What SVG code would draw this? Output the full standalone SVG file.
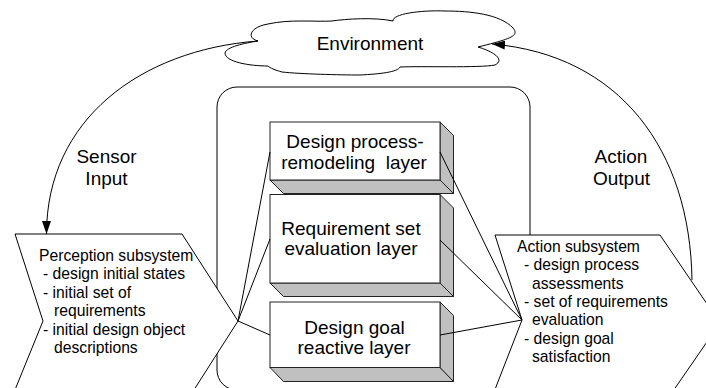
<svg xmlns="http://www.w3.org/2000/svg" width="706" height="388" viewBox="0 0 706 388">
  <style>
    .ln { fill: none; stroke: #000; stroke-width: 1; }
    .shape { fill: #fff; stroke: #000; stroke-width: 1; }
    .face { fill: #fff; stroke: #222; stroke-width: 1; }
    .side { fill: #c0c0c0; stroke: #222; stroke-width: 1; }
    text { font-family: "Liberation Sans", Arial, sans-serif; fill: #000; }
    .big { font-size: 19px; text-anchor: middle; white-space: pre; }
    .small { font-size: 15.7px; white-space: pre; }
  </style>
  <defs>
    <marker id="arrow" viewBox="0 0 13 9" refX="13" refY="4.5" markerWidth="13" markerHeight="9" markerUnits="userSpaceOnUse" orient="auto">
      <path d="M0,0 L13,4.5 L0,9 Z" fill="#000"/>
    </marker>
  </defs>

  <!-- agent boundary -->
  <g id="agent">
    <rect x="217" y="87" width="313" height="303" rx="20" ry="20" class="ln"/>
  </g>

  <!-- layered control stack -->
  <g id="layer-remodeling">
    <polygon points="270,180 440,180 453.5,193.5 283.5,193.5" class="side"/>
    <polygon points="440,122 453.5,135.5 453.5,193.5 440,180" class="side"/>
    <rect x="270" y="122" width="170" height="58" class="face"/>
    <text class="big" x="355" y="148">Design process-</text>
    <text class="big" x="354" y="168.5">remodeling  layer</text>
  </g>
  <g id="layer-requirements">
    <polygon points="270,283 440,283 453.5,296.5 283.5,296.5" class="side"/>
    <polygon points="440,194.5 453.5,208 453.5,296.5 440,283" class="side"/>
    <rect x="270" y="194.5" width="170" height="88.5" class="face"/>
    <text class="big" x="351" y="234.5">Requirement set</text>
    <text class="big" x="351" y="255">evaluation layer</text>
  </g>
  <g id="layer-reactive">
    <polygon points="270,367.5 440,367.5 453.5,381.5 283.5,381.5" class="side"/>
    <polygon points="440,302 453.5,315.5 453.5,381.5 440,367.5" class="side"/>
    <rect x="270" y="302" width="170" height="65.5" class="face"/>
    <text class="big" x="354.5" y="333.5">Design goal</text>
    <text class="big" x="354" y="353.5">reactive layer</text>
  </g>

  <!-- perception subsystem -->
  <g id="perception">
    <polygon points="15,234 182,234 238,321 183,407 8,407 43,321" class="shape"/>
    <text class="small" x="39" y="260.5">Perception subsystem</text>
    <text class="small" x="43" y="279">- design initial states</text>
    <text class="small" x="43" y="297.5">- initial set of</text>
    <text class="small" x="54" y="316">requirements</text>
    <text class="small" x="43" y="334.5">- initial design object</text>
    <text class="small" x="54" y="353">descriptions</text>
  </g>

  <!-- action subsystem -->
  <g id="action">
    <polygon points="495,235 660,235 720,323 660,410 487,410 522,320" class="shape"/>
    <text class="small" x="517" y="251.5">Action subsystem</text>
    <text class="small" x="524" y="270">- design process</text>
    <text class="small" x="532" y="288.5">assessments</text>
    <text class="small" x="524" y="306.5">- set of requirements</text>
    <text class="small" x="532" y="325">evaluation</text>
    <text class="small" x="524" y="343.5">- design goal</text>
    <text class="small" x="532" y="361.5">satisfaction</text>
  </g>

  <!-- environment -->
  <g id="environment">
    <path class="shape" d="M258,41
      C246,38 250,27 268,24
      C290,19 315,22 332,21
      C345,19 375,17 393,21
      C392,14 420,10 445,11
      C470,11 500,14 513,28
      C520,36 510,39 478,47
      C495,52 505,60 495,65
      C480,68 420,66 400,67
      C398,72 380,74 360,75
      C340,75 300,74 282,72
      C275,70 270,68 268,66
      C250,66 225,62 225,53
      C226,47 245,43 258,41 Z"/>
    <text class="big" x="370" y="50">Environment</text>
  </g>

  <!-- connectors -->
  <g id="connectors">
    <path class="ln" d="M238,321 L270,152"/>
    <path class="ln" d="M238,321 L270,239"/>
    <path class="ln" d="M238,321 L270,335"/>
    <path class="ln" d="M522,320 L440,152"/>
    <path class="ln" d="M522,320 L440,240"/>
    <path class="ln" d="M522,320 L440,335"/>
    <path class="ln" d="M258,41 C140,50 46.5,120 46.5,234" marker-end="url(#arrow)"/>
    <path class="ln" d="M692,280 C690,150 620,55 492,44" marker-end="url(#arrow)"/>
  </g>

  <!-- flow labels -->
  <text class="big" x="106.5" y="163">Sensor</text>
  <text class="big" x="106.5" y="185">Input</text>
  <text class="big" x="621" y="163">Action</text>
  <text class="big" x="621.5" y="184.5">Output</text>
</svg>
